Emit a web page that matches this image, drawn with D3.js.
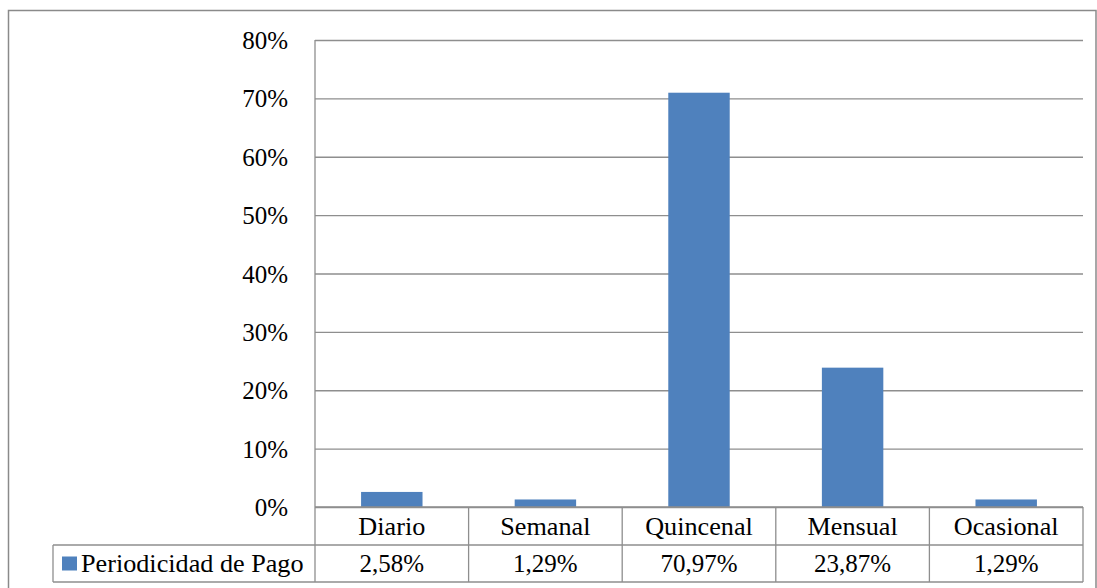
<!DOCTYPE html>
<html><head><meta charset="utf-8">
<script src="https://cdn.jsdelivr.net/npm/d3@7"></script>
<style>html,body{margin:0;padding:0;background:#fff;overflow:hidden}svg{display:block}</style>
</head><body><svg id="c" width="1097" height="588"></svg>
<script>
const categories = ["Diario","Semanal","Quincenal","Mensual","Ocasional"];
const values = [2.58, 1.29, 70.97, 23.87, 1.29];
const valueLabels = ["2,58%","1,29%","70,97%","23,87%","1,29%"];
const seriesName = "Periodicidad de Pago";
const yTicks = [0,10,20,30,40,50,60,70,80];

const svg = d3.select("#c");
const L = 315, R = 1083, T = 40, B = 507;
const row1 = 545, row2 = 582, tableLeft = 53;
const gridColor = "#8e8e8e", barColor = "#4F81BD", FF = '"Liberation Serif"';

function styleText(sel, fs){ return sel.style("font-family",FF).style("font-size",fs).style("fill","#000"); }

// outer border
svg.append("rect").attr("x",8.5).attr("y",10.5).attr("width",1087.5).attr("height",620)
  .attr("fill","none").attr("stroke","#8a8a8a").attr("stroke-width",1.5);

const y = d3.scaleLinear().domain([0,80]).range([B,T]);
const xCol = d3.scaleBand().domain(categories).range([L,R]).padding(0);
const xBar = d3.scaleBand().domain(categories).range([L,R]).paddingInner(0.6).paddingOuter(0.3);

// gridlines + y axis labels
const yAxis = d3.axisLeft(y).tickValues(yTicks).tickSize(-(R-L)).tickPadding(27).tickFormat(d=>d+"%");
const ga = svg.append("g").attr("transform",`translate(${L},0)`).call(yAxis);
ga.select(".domain").remove();
ga.selectAll(".tick line").attr("stroke",gridColor).attr("stroke-width",1.3);
styleText(ga.selectAll(".tick text"),"25px").attr("dy","0.34em");

// bars
svg.append("g").selectAll("rect").data(categories).join("rect")
  .attr("x",d=>xBar(d)).attr("width",xBar.bandwidth())
  .attr("y",(d,i)=>y(values[i])).attr("height",(d,i)=>B-y(values[i]))
  .attr("fill",barColor);

// table lines
const lines = svg.append("g").attr("stroke",gridColor).attr("stroke-width",1.3);
lines.append("line").attr("x1",L).attr("x2",L).attr("y1",T).attr("y2",row2);
lines.append("line").attr("x1",L).attr("x2",R).attr("y1",B).attr("y2",B);
lines.append("line").attr("x1",tableLeft).attr("x2",R).attr("y1",row1).attr("y2",row1);
lines.append("line").attr("x1",tableLeft).attr("x2",R).attr("y1",row2).attr("y2",row2);
lines.append("line").attr("x1",tableLeft).attr("x2",tableLeft).attr("y1",row1).attr("y2",row2);
categories.forEach(c=>{
  const xr = xCol(c)+xCol.bandwidth();
  lines.append("line").attr("x1",xr).attr("x2",xr).attr("y1",B).attr("y2",row2);
});

// table text
styleText(svg.append("g").selectAll("text").data(categories).join("text"),"26.2px")
  .attr("x",d=>xCol(d)+xCol.bandwidth()/2).attr("y",(B+row1)/2).attr("dy","0.34em")
  .attr("text-anchor","middle").text(d=>d);
styleText(svg.append("g").selectAll("text").data(categories).join("text"),"25px")
  .attr("x",d=>xCol(d)+xCol.bandwidth()/2).attr("y",(row1+row2)/2).attr("dy","0.34em")
  .attr("text-anchor","middle").text((d,i)=>valueLabels[i]);

// legend key in table
svg.append("rect").attr("x",62).attr("y",(row1+row2)/2-7).attr("width",15).attr("height",14).attr("fill",barColor);
styleText(svg.append("text"),"26.2px").attr("x",81).attr("y",(row1+row2)/2).attr("dy","0.34em").text(seriesName);
</script></body></html>
